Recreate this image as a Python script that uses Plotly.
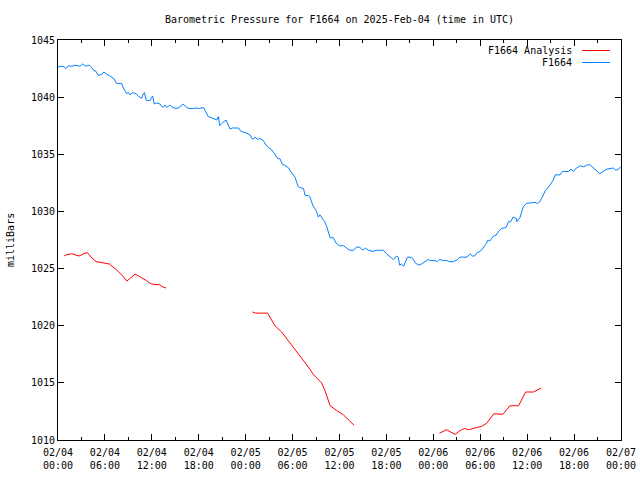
import pandas as pd
import plotly.graph_objects as go

BASE = pd.Timestamp("2025-02-04 00:00")

# F1664 observed pressure (hours since 2025-02-04 00:00 UTC, mb)
obs_hours = [0.0, 0.26, 0.68, 1.02, 1.32, 1.75, 2.17, 2.81, 3.15, 3.54, 4.0, 4.3, 4.6, 4.8, 5.16, 5.58,
             5.88, 6.2, 6.56, 6.86, 7.16, 7.5, 8.14, 8.36, 8.78, 9.0, 9.2, 9.55, 9.97, 10.27, 10.7,
             10.9, 11.04, 11.3, 11.76, 12.1, 12.3, 12.6, 13.04, 13.4, 13.7, 13.9, 14.3, 14.66, 15.1,
             15.5, 16.0, 16.45, 16.8, 17.3, 17.7, 18.1, 18.6, 18.8, 19.2, 19.65, 20.1, 20.3, 20.5,
             20.7, 21.1, 21.5, 22.0, 22.3, 23.1, 23.4, 23.9, 24.4, 24.55, 24.9, 25.2, 25.5, 25.8,
             26.25, 26.6, 26.9, 27.3, 27.75, 28.0, 28.4, 28.7, 29.0, 29.5, 29.7, 30.1, 30.3, 30.7,
             30.9, 31.4, 31.6, 32.0, 32.2, 32.4, 32.6, 33.0, 33.3, 33.5, 33.8, 34.1, 34.35, 34.6,
             34.8, 35.2, 35.6, 36.0, 36.5, 36.9, 37.3, 37.8, 38.2, 38.6, 39.0, 39.3, 39.7, 40.3,
             40.75, 41.2, 41.6, 42.0, 42.5, 42.9, 43.3, 43.5, 43.7, 43.9, 44.2, 44.4, 44.7, 45.0,
             45.35, 45.7, 46.1, 46.5, 46.9, 47.35, 47.6, 48.2, 48.5, 48.8, 49.3, 49.7, 50.1, 50.6,
             51.1, 51.4, 51.8, 52.3, 52.7, 53.0, 53.3, 53.6, 54.0, 54.4, 54.7, 55.0, 55.2, 55.7,
             56.0, 56.3, 56.7, 57.3, 57.6, 57.9, 58.2, 58.6, 58.7, 59.1, 59.5, 59.9, 60.6, 61.0,
             61.3, 61.55, 61.9, 62.3, 62.7, 63.0, 63.3, 63.6, 64.2, 64.5, 65.3, 65.6, 65.9, 66.3,
             66.8, 67.2, 67.6, 68.0, 68.45, 68.9, 69.3, 69.7, 70.2, 71.0, 71.35, 71.7, 71.9]
obs_mb = [1042.6, 1042.7, 1042.7, 1042.5, 1042.75, 1042.7, 1042.8, 1042.7, 1042.9, 1042.7, 1042.8,
          1042.6, 1042.3, 1042.3, 1041.9, 1042.0, 1042.2, 1042.0, 1041.9, 1041.75, 1041.6, 1041.2,
          1041.2, 1040.8, 1040.3, 1040.4, 1040.2, 1040.4, 1040.3, 1040.1, 1039.9, 1040.3, 1040.4,
          1039.7, 1039.7, 1040.1, 1039.4, 1039.5, 1039.4, 1039.1, 1039.3, 1039.1, 1039.3, 1039.1,
          1039.0, 1039.1, 1039.4, 1039.1, 1039.0, 1039.0, 1039.05, 1039.0, 1039.1, 1038.85, 1038.3,
          1038.2, 1038.1, 1038.0, 1038.3, 1037.5, 1037.8, 1038.0, 1037.2, 1037.3, 1037.3, 1037.0,
          1036.9, 1036.7, 1036.7, 1036.3, 1036.5, 1036.3, 1036.4, 1036.2, 1035.8, 1035.6, 1035.4,
          1035.0, 1034.7, 1034.6, 1034.1, 1034.05, 1033.8, 1033.55, 1033.1, 1033.0, 1032.2, 1032.1,
          1032.0, 1031.4, 1031.4, 1031.3, 1030.9, 1030.5, 1030.1, 1029.5, 1029.7, 1029.4, 1029.1,
          1028.7, 1028.1, 1027.7, 1027.7, 1027.2, 1027.0, 1027.0, 1026.8, 1026.6, 1026.6, 1026.9,
          1026.85, 1026.6, 1026.8, 1026.6, 1026.5, 1026.6, 1026.6, 1026.6, 1026.3, 1026.0, 1025.8,
          1026.1, 1026.0, 1025.3, 1025.4, 1025.2, 1025.5, 1026.0, 1026.0, 1025.9, 1025.5, 1025.3,
          1025.4, 1025.6, 1025.8, 1025.7, 1025.7, 1025.6, 1025.8, 1025.7, 1025.7, 1025.6, 1025.6,
          1025.8, 1026.0, 1026.0, 1026.0, 1026.3, 1026.1, 1026.1, 1026.4, 1026.5, 1026.8, 1027.1,
          1027.5, 1027.4, 1027.85, 1027.9, 1028.2, 1028.5, 1028.6, 1029.1, 1029.1, 1029.5, 1029.4,
          1029.1, 1029.5, 1030.4, 1030.7, 1030.8, 1030.8, 1030.7, 1030.8, 1031.2, 1031.8, 1032.1,
          1032.4, 1032.7, 1033.2, 1033.2, 1033.5, 1033.5, 1033.7, 1033.5, 1033.8, 1034.0, 1033.9,
          1034.05, 1034.1, 1033.85, 1033.6, 1033.3, 1033.5, 1033.7, 1033.8, 1033.6, 1033.7, 1033.9]

# F1664 Analysis (three separate segments)
ana_seg1_hours = [0.77, 1.0, 1.75, 2.2, 2.7, 3.3, 3.75, 4.1, 4.5, 4.86, 5.4, 6.0, 6.56, 7.3, 7.9,
                  8.36, 8.8, 9.3, 9.85, 10.3, 10.7, 11.3, 11.8, 12.4, 12.95, 13.4, 13.8]
ana_seg1_mb = [1026.1, 1026.2, 1026.3, 1026.2, 1026.1, 1026.3, 1026.4, 1026.1, 1025.8, 1025.6,
               1025.55, 1025.5, 1025.4, 1025.0, 1024.65, 1024.3, 1023.9, 1024.2, 1024.5, 1024.35,
               1024.2, 1023.95, 1023.7, 1023.6, 1023.6, 1023.4, 1023.3]
ana_seg2_hours = [24.85, 25.3, 26.8, 27.3, 27.75, 28.6, 29.45, 30.3, 31.2, 32.0, 32.7, 33.7, 34.1,
                  34.8, 35.6, 36.5, 37.25, 37.85]
ana_seg2_mb = [1021.2, 1021.1, 1021.1, 1020.5, 1020.0, 1019.45, 1018.7, 1018.0, 1017.2, 1016.4,
               1015.7, 1015.0, 1014.4, 1013.0, 1012.6, 1012.2, 1011.7, 1011.3]
ana_seg3_hours = [48.8, 49.2, 49.7, 50.2, 50.8, 51.6, 52.0, 52.5, 53.2, 54.2, 54.8, 55.3, 55.75,
                  56.9, 57.3, 57.8, 58.9, 59.3, 59.8, 60.8, 61.3, 61.8]
ana_seg3_mb = [1010.6, 1010.75, 1010.9, 1010.7, 1010.5, 1010.9, 1011.0, 1010.9, 1011.0, 1011.2,
               1011.45, 1011.9, 1012.3, 1012.25, 1012.6, 1013.0, 1013.0, 1013.6, 1014.2, 1014.2,
               1014.35, 1014.55]

y_ticks = [1010, 1015, 1020, 1025, 1030, 1035, 1040, 1045]

FONT = "DejaVu Sans Mono, Liberation Mono, monospace"


def to_time(hours):
    return [BASE + pd.Timedelta(hours=h) for h in hours]


ana_x, ana_y = [], []
for hs, vs in [(ana_seg1_hours, ana_seg1_mb), (ana_seg2_hours, ana_seg2_mb), (ana_seg3_hours, ana_seg3_mb)]:
    ana_x += to_time(hs) + [None]
    ana_y += vs + [None]

fig = go.Figure()
fig.add_trace(go.Scatter(x=ana_x, y=ana_y, mode="lines", name="F1664 Analysis",
                         line=dict(color="#ff0000", width=1), connectgaps=False))
fig.add_trace(go.Scatter(x=to_time(obs_hours), y=obs_mb, mode="lines", name="F1664",
                         line=dict(color="#0080ff", width=1)))

# gnuplot-style legend: text right-aligned, sample line on the right
legend_items = [("F1664 Analysis", "#ff0000", 50.5), ("F1664", "#0080ff", 62.5)]
L, R, T, B = 58, 621, 40, 440
for label, col, ypx in legend_items:
    yp = (B - ypx) / (B - T)
    fig.add_annotation(x=(574 - L) / (R - L), y=yp, xref="paper", yref="paper", text=label,
                       showarrow=False, xanchor="right", yanchor="middle",
                       font=dict(family=FONT, size=10, color="black"))
    fig.add_shape(type="line", xref="paper", yref="paper", x0=(582 - L) / (R - L),
                  x1=(610 - L) / (R - L), y0=yp, y1=yp, line=dict(color=col, width=1))

fig.add_annotation(x=(10 - L) / (R - L), y=0.5, xref="paper", yref="paper", text="milliBars",
                   textangle=-90, showarrow=False, xanchor="center", yanchor="middle",
                   font=dict(family=FONT, size=10, color="black"))

fig.update_layout(
    width=640, height=480,
    margin=dict(l=L, r=640 - R, t=T, b=480 - B, autoexpand=False),
    paper_bgcolor="white", plot_bgcolor="white",
    showlegend=False,
    font=dict(family=FONT, size=10, color="black"),
    title=dict(text="Barometric Pressure for F1664 on 2025-Feb-04 (time in UTC)",
               x=0.5, xref="paper", xanchor="center", y=1 - 19 / 480, yanchor="middle",
               font=dict(family=FONT, size=10, color="black")),
)
fig.update_xaxes(
    type="date", range=[BASE, BASE + pd.Timedelta(hours=72)], automargin=False,
    dtick=6 * 3600 * 1000, tick0=BASE, tickformat="%m/%d<br>%H:%M",
    ticks="inside", ticklen=6, tickcolor="black", tickwidth=1, ticklabelstandoff=3,
    minor=dict(ticks="inside", ticklen=3, dtick=3 * 3600 * 1000, tickcolor="black", showgrid=False),
    showline=True, linecolor="black", linewidth=1, mirror="allticks",
    showgrid=False, zeroline=False,
    tickfont=dict(family=FONT, size=10, color="black"),
)
fig.update_yaxes(
    range=[1010, 1045], tickvals=y_ticks, ticktext=[str(v) for v in y_ticks], automargin=False,
    ticks="inside", ticklen=6, tickcolor="black", tickwidth=1,
    showline=True, linecolor="black", linewidth=1, mirror="allticks",
    showgrid=False, zeroline=False,
    tickfont=dict(family=FONT, size=10, color="black"),
)

fig.write_html("out.html")
